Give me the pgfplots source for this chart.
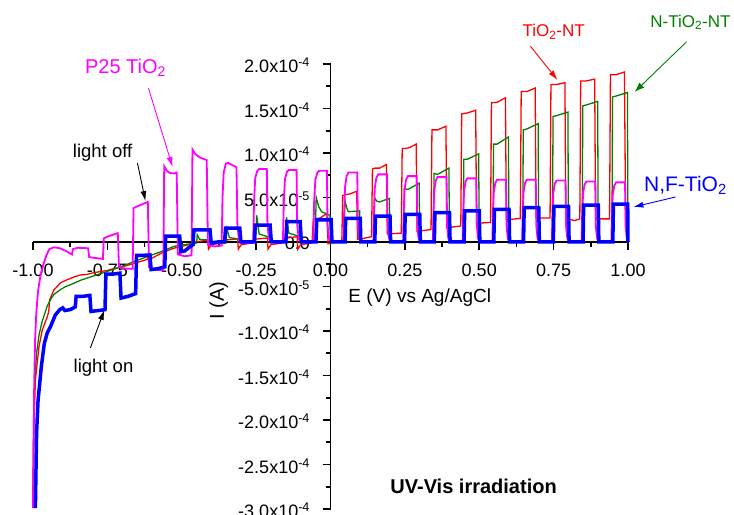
\documentclass[border=0pt]{standalone}
\usepackage{fontspec}
\setmainfont{Liberation Sans}
\usepackage{pgfplots}
\pgfplotsset{compat=1.18}
\usetikzlibrary{arrows.meta}
\definecolor{cRed}{RGB}{255,0,0}
\definecolor{cGreen}{RGB}{0,128,0}
\definecolor{cMag}{RGB}{255,0,255}
\definecolor{cBlue}{RGB}{0,0,255}
\newcommand{\fs}{\fontsize{18bp}{21bp}\selectfont}
\newcommand{\fsz}[1]{\fontsize{#1bp}{#1bp}\selectfont}
\begin{document}
\begin{tikzpicture}
\begin{axis}[
 at={(33bp,6bp)}, anchor=south west,
 scale only axis, width=595bp, height=445bp,
 xmin=-1, xmax=1, ymin=-3, ymax=2,
 enlargelimits=false,
 axis lines=middle,
 axis line style={-, line width=1.6bp, black},
 set layers,
 clip=false,
 hide obscured x ticks=false, hide obscured y ticks=false,
 xtick={-1,-0.75,-0.5,-0.25,0,0.25,0.5,0.75,1},
 xticklabels={-1.00,-0.75,-0.50,-0.25,0.00,0.25,0.50,0.75,1.00},
 minor xtick={-0.875,-0.625,-0.375,-0.125,0.125,0.375,0.625,0.875},
 ytick={-3,-2.5,-2,-1.5,-1,-0.5,0,0.5,1,1.5,2},
 yticklabels={-3.0x10\textsuperscript{-4},-2.5x10\textsuperscript{-4},-2.0x10\textsuperscript{-4},-1.5x10\textsuperscript{-4},-1.0x10\textsuperscript{-4},-5.0x10\textsuperscript{-5},0.0,5.0x10\textsuperscript{-5},1.0x10\textsuperscript{-4},1.5x10\textsuperscript{-4},2.0x10\textsuperscript{-4}},
 minor ytick={-2.75,-2.25,-1.75,-1.25,-0.75,-0.25,0.25,0.75,1.25,1.75},
 tick align=outside,
 major tick length=8bp, minor tick length=5bp,
 tick style={black, line width=1.6bp},
 ticklabel style={font=\fs},
 xticklabel style={yshift=-10bp},
 yticklabel style={xshift=-9bp, yshift=-1.5bp},
]
% TiO2-NT (red)
\addplot[cRed, line width=1.3bp] coordinates {
(-1.000,-2.87)(-0.997,-2.11)(-0.992,-1.55)(-0.980,-1.18)(-0.969,-0.99)(-0.952,-0.84)(-0.947,-0.78)(-0.944,-0.65)(-0.930,-0.54)(-0.908,-0.46)(-0.890,-0.43)(-0.874,-0.41)(-0.860,-0.39)(-0.840,-0.37)(-0.820,-0.365)(-0.796,-0.345)(-0.770,-0.33)(-0.751,-0.32)(-0.730,-0.30)(-0.706,-0.285)(-0.680,-0.26)(-0.661,-0.24)(-0.640,-0.22)(-0.616,-0.195)(-0.612,-0.15)(-0.605,-0.19)(-0.571,-0.13)(-0.550,-0.10)(-0.527,-0.07)(-0.500,-0.05)(-0.482,-0.035)(-0.460,-0.02)
(-0.458,0.00)(-0.412,0.02)(-0.410,-0.08)(-0.400,-0.03)(-0.365,-0.01)
(-0.358,0.02)(-0.312,0.035)(-0.310,-0.08)(-0.300,-0.03)(-0.262,-0.01)
(-0.258,0.03)(-0.212,0.045)(-0.210,-0.08)(-0.200,-0.03)(-0.162,-0.01)
(-0.158,0.04)(-0.112,0.06)(-0.110,-0.08)(-0.100,-0.03)(-0.062,-0.01)
(-0.058,0.25)(-0.035,0.27)(-0.012,0.32)(-0.008,-0.02)(0.000,-0.01)(0.038,0.00)
(0.041,0.52)(0.048,0.53)(0.065,0.54)(0.088,0.57)(0.091,0.03)(0.110,0.04)(0.138,0.06)
(0.141,0.82)(0.150,0.83)(0.165,0.83)(0.188,0.87)(0.191,0.09)(0.238,0.10)
(0.241,1.05)(0.250,1.05)(0.265,1.06)(0.288,1.10)(0.291,0.12)(0.338,0.14)
(0.341,1.26)(0.360,1.26)(0.388,1.30)(0.391,0.16)(0.438,0.18)
(0.441,1.44)(0.460,1.45)(0.488,1.48)(0.491,0.21)(0.538,0.22)
(0.541,1.565)(0.560,1.57)(0.588,1.62)(0.591,0.25)(0.638,0.265)
(0.641,1.69)(0.660,1.69)(0.688,1.73)(0.691,0.27)(0.738,0.27)
(0.741,1.77)(0.760,1.77)(0.788,1.79)(0.791,0.26)(0.810,0.25)(0.820,0.24)(0.838,0.26)
(0.841,1.81)(0.860,1.81)(0.888,1.83)(0.891,0.26)(0.938,0.26)
(0.941,1.88)(0.960,1.88)(0.988,1.91)(0.992,0.27)(1.000,0.27)
};
% N-TiO2-NT (green)
\addplot[cGreen, line width=1.3bp] coordinates {
(-1.000,-2.80)(-0.999,-2.30)(-0.997,-1.78)(-0.993,-1.50)(-0.988,-1.25)(-0.980,-1.05)(-0.970,-0.90)(-0.960,-0.80)(-0.952,-0.72)(-0.940,-0.64)(-0.930,-0.59)(-0.910,-0.54)(-0.890,-0.50)(-0.874,-0.48)(-0.840,-0.43)(-0.800,-0.385)(-0.750,-0.33)(-0.706,-0.28)(-0.661,-0.22)(-0.616,-0.165)(-0.571,-0.11)(-0.527,-0.05)(-0.482,-0.025)(-0.450,-0.012)
(-0.448,0.08)(-0.440,0.03)(-0.402,0.02)(-0.400,-0.02)(-0.352,-0.01)
(-0.348,0.15)(-0.340,0.05)(-0.302,0.03)(-0.300,-0.01)(-0.252,0.00)
(-0.248,0.30)(-0.240,0.09)(-0.202,0.05)(-0.200,0.00)(-0.152,0.00)
(-0.148,0.28)(-0.140,0.10)(-0.102,0.06)(-0.100,0.00)(-0.052,0.00)
(-0.048,0.50)(-0.040,0.40)(-0.030,0.34)(-0.002,0.30)(0.000,0.00)(0.046,0.00)
(0.048,0.47)(0.055,0.38)(0.060,0.34)(0.098,0.35)(0.100,0.00)(0.146,0.01)
(0.148,0.50)(0.155,0.46)(0.165,0.45)(0.198,0.49)(0.200,0.01)(0.246,0.01)
(0.248,0.60)(0.260,0.59)(0.298,0.66)(0.300,0.01)(0.346,0.01)
(0.348,0.77)(0.360,0.76)(0.398,0.83)(0.400,0.01)(0.446,0.01)
(0.448,0.93)(0.460,0.93)(0.498,0.99)(0.500,0.01)(0.546,0.01)
(0.548,1.10)(0.560,1.10)(0.598,1.18)(0.600,0.01)(0.646,0.01)
(0.648,1.26)(0.660,1.27)(0.698,1.33)(0.700,0.01)(0.746,0.01)
(0.748,1.41)(0.760,1.42)(0.798,1.46)(0.800,0.01)(0.846,0.01)
(0.848,1.53)(0.860,1.54)(0.898,1.58)(0.900,0.01)(0.946,0.01)
(0.948,1.63)(0.960,1.64)(0.998,1.68)(1.000,0.00)
};
% P25 TiO2 (magenta)
\addplot[cMag, line width=1.8bp] coordinates {
(-1.000,-2.99)(-0.998,-2.30)(-0.996,-1.60)(-0.993,-1.10)(-0.989,-0.80)(-0.983,-0.55)(-0.975,-0.38)(-0.965,-0.25)(-0.955,-0.15)(-0.945,-0.08)(-0.930,-0.06)(-0.910,-0.07)(-0.890,-0.10)(-0.869,-0.14)(-0.866,-0.08)(-0.850,-0.065)(-0.815,-0.07)(-0.811,-0.17)(-0.790,-0.18)(-0.765,-0.19)
(-0.762,0.04)(-0.750,0.06)(-0.715,0.10)(-0.711,-0.28)(-0.690,-0.30)(-0.665,-0.30)
(-0.662,0.38)(-0.650,0.40)(-0.614,0.45)(-0.610,-0.28)(-0.590,-0.31)(-0.562,-0.32)
(-0.559,0.85)(-0.550,0.80)(-0.540,0.775)(-0.525,0.77)(-0.517,0.78)(-0.513,-0.14)(-0.490,-0.16)(-0.467,-0.15)
(-0.464,1.04)(-0.455,0.99)(-0.440,0.95)(-0.416,0.92)(-0.412,-0.03)(-0.390,-0.05)(-0.366,-0.04)
(-0.363,0.50)(-0.359,0.78)(-0.352,0.88)(-0.345,0.89)(-0.316,0.84)(-0.313,0.20)(-0.308,0.03)(-0.300,-0.01)(-0.262,-0.01)
(-0.260,0.00)(-0.257,0.45)(-0.253,0.72)(-0.246,0.80)(-0.240,0.82)(-0.214,0.82)(-0.212,0.20)(-0.207,0.04)(-0.200,0.00)(-0.162,0.00)
(-0.160,0.00)(-0.157,0.45)(-0.153,0.71)(-0.146,0.79)(-0.140,0.81)(-0.114,0.81)(-0.112,0.20)(-0.107,0.04)(-0.100,0.00)(-0.060,0.00)
(-0.058,0.00)(-0.055,0.45)(-0.051,0.70)(-0.044,0.78)(-0.038,0.80)(-0.012,0.80)(-0.010,0.20)(-0.005,0.04)(0.002,0.00)(0.044,0.00)
(0.046,0.35)(0.049,0.62)(0.054,0.74)(0.060,0.78)(0.090,0.78)(0.092,0.20)(0.096,0.05)(0.102,0.00)(0.144,0.00)
(0.146,0.34)(0.149,0.61)(0.154,0.72)(0.160,0.76)(0.190,0.76)(0.192,0.19)(0.196,0.05)(0.202,0.00)(0.244,0.00)
(0.246,0.33)(0.249,0.59)(0.254,0.70)(0.260,0.74)(0.290,0.74)(0.292,0.185)(0.296,0.04)(0.302,0.00)(0.344,0.00)
(0.346,0.33)(0.349,0.58)(0.354,0.69)(0.360,0.73)(0.390,0.73)(0.392,0.18)(0.396,0.04)(0.402,0.00)(0.444,0.00)
(0.446,0.32)(0.449,0.57)(0.454,0.68)(0.460,0.715)(0.490,0.715)(0.492,0.18)(0.496,0.04)(0.502,0.00)(0.544,0.00)
(0.546,0.315)(0.549,0.56)(0.554,0.665)(0.560,0.70)(0.590,0.70)(0.592,0.175)(0.596,0.04)(0.602,0.00)(0.644,0.00)
(0.646,0.315)(0.649,0.56)(0.654,0.665)(0.660,0.70)(0.690,0.70)(0.692,0.175)(0.696,0.04)(0.702,0.00)(0.744,0.00)
(0.746,0.31)(0.749,0.55)(0.754,0.655)(0.760,0.69)(0.790,0.69)(0.792,0.17)(0.796,0.04)(0.802,0.00)(0.844,0.00)
(0.846,0.305)(0.849,0.545)(0.854,0.645)(0.860,0.68)(0.890,0.68)(0.892,0.17)(0.896,0.04)(0.902,0.00)(0.944,0.00)
(0.946,0.30)(0.949,0.535)(0.954,0.635)(0.960,0.67)(0.990,0.67)(0.992,0.17)(0.996,0.04)(1.000,0.00)
};
% N,F-TiO2 (blue)
\addplot[cBlue, line width=3.5bp] coordinates {
(-0.992,-2.99)(-0.988,-2.15)(-0.983,-1.78)(-0.972,-1.40)(-0.962,-1.14)(-0.952,-1.02)(-0.941,-0.95)(-0.925,-0.82)(-0.910,-0.76)(-0.900,-0.74)(-0.893,-0.77)(-0.875,-0.76)(-0.858,-0.73)
(-0.855,-0.61)(-0.830,-0.61)(-0.809,-0.60)(-0.805,-0.78)(-0.780,-0.77)(-0.758,-0.76)
(-0.755,-0.36)(-0.730,-0.36)(-0.708,-0.35)(-0.704,-0.63)(-0.680,-0.61)(-0.655,-0.58)
(-0.652,-0.15)(-0.630,-0.15)(-0.607,-0.145)(-0.603,-0.31)(-0.580,-0.30)(-0.557,-0.28)
(-0.554,0.065)(-0.530,0.065)(-0.507,0.065)(-0.503,-0.11)(-0.490,-0.10)(-0.475,-0.06)(-0.462,-0.03)
(-0.459,0.135)(-0.430,0.135)(-0.405,0.135)(-0.401,-0.01)(-0.380,0.00)(-0.356,0.00)
(-0.353,0.155)(-0.305,0.155)(-0.301,0.00)(-0.256,0.00)
(-0.253,0.19)(-0.203,0.19)(-0.199,0.00)(-0.150,0.00)
(-0.147,0.23)(-0.102,0.23)(-0.098,0.00)(-0.049,0.00)
(-0.046,0.25)(0.002,0.25)(0.005,0.00)(0.049,0.00)
(0.051,0.265)(0.100,0.265)(0.102,0.00)(0.149,0.00)
(0.151,0.29)(0.200,0.29)(0.202,0.00)(0.249,0.00)
(0.251,0.31)(0.300,0.31)(0.302,0.00)(0.349,0.00)
(0.351,0.33)(0.400,0.33)(0.402,0.00)(0.449,0.00)
(0.451,0.35)(0.500,0.35)(0.502,0.00)(0.549,0.00)
(0.551,0.367)(0.600,0.367)(0.602,0.00)(0.649,0.00)
(0.651,0.385)(0.700,0.385)(0.702,0.00)(0.749,0.00)
(0.751,0.40)(0.800,0.40)(0.802,0.00)(0.849,0.00)
(0.851,0.415)(0.900,0.415)(0.902,0.00)(0.949,0.00)
(0.951,0.425)(0.999,0.425)(1.000,0.00)
};
% labels and annotations
\node[font=\fsz{19}] at (axis cs:0.30,-0.62) {E (V) vs Ag/AgCl};
\node[font=\fsz{20}, rotate=90] at (axis cs:-0.376,-0.66) {I (A)};
\node[font=\fsz{20}, text=cMag] at (axis cs:-0.689,1.955) {P25 TiO\textsubscript{2}};
\draw[cMag, line width=0.9bp, -{Latex[length=10bp,width=6bp]}] (axis cs:-0.612,1.73) -- (axis cs:-0.531,0.843);
\node[font=\fsz{17}, text=cRed] at (axis cs:0.75,2.36) {TiO\textsubscript{2}-NT};
\draw[cRed, line width=0.9bp, -{Latex[length=10bp,width=6bp]}] (axis cs:0.672,2.20) -- (axis cs:0.763,1.82);
\node[font=\fsz{17}, text=cGreen] at (axis cs:1.21,2.47) {N-TiO\textsubscript{2}-NT};
\draw[cGreen, line width=0.9bp, -{Latex[length=10bp,width=7bp]}] (axis cs:1.197,2.25) -- (axis cs:1.022,1.685);
\node[font=\fsz{21}, text=cBlue] at (axis cs:1.193,0.64) {N,F-TiO\textsubscript{2}};
\draw[cBlue, line width=0.9bp, -{Latex[length=10bp,width=6bp]}] (axis cs:1.16,0.506) -- (axis cs:1.018,0.393);
\node[font=\fsz{18.5}] at (axis cs:-0.766,1.0) {light off};
\draw[black, line width=0.9bp, -{Latex[length=10bp,width=6bp]}] (axis cs:-0.649,0.888) -- (axis cs:-0.622,0.46);
\node[font=\fsz{18.5}] at (axis cs:-0.763,-1.416) {light on};
\draw[black, line width=0.9bp, -{Latex[length=10bp,width=6bp]}] (axis cs:-0.807,-1.19) -- (axis cs:-0.76,-0.764);
\node[font=\fsz{20}\bfseries] at (axis cs:0.481,-2.75) {UV-Vis irradiation};
\end{axis}
\pgfresetboundingbox
\path[use as bounding box] (0,0) rectangle (734bp,515bp);
\end{tikzpicture}
\end{document}
